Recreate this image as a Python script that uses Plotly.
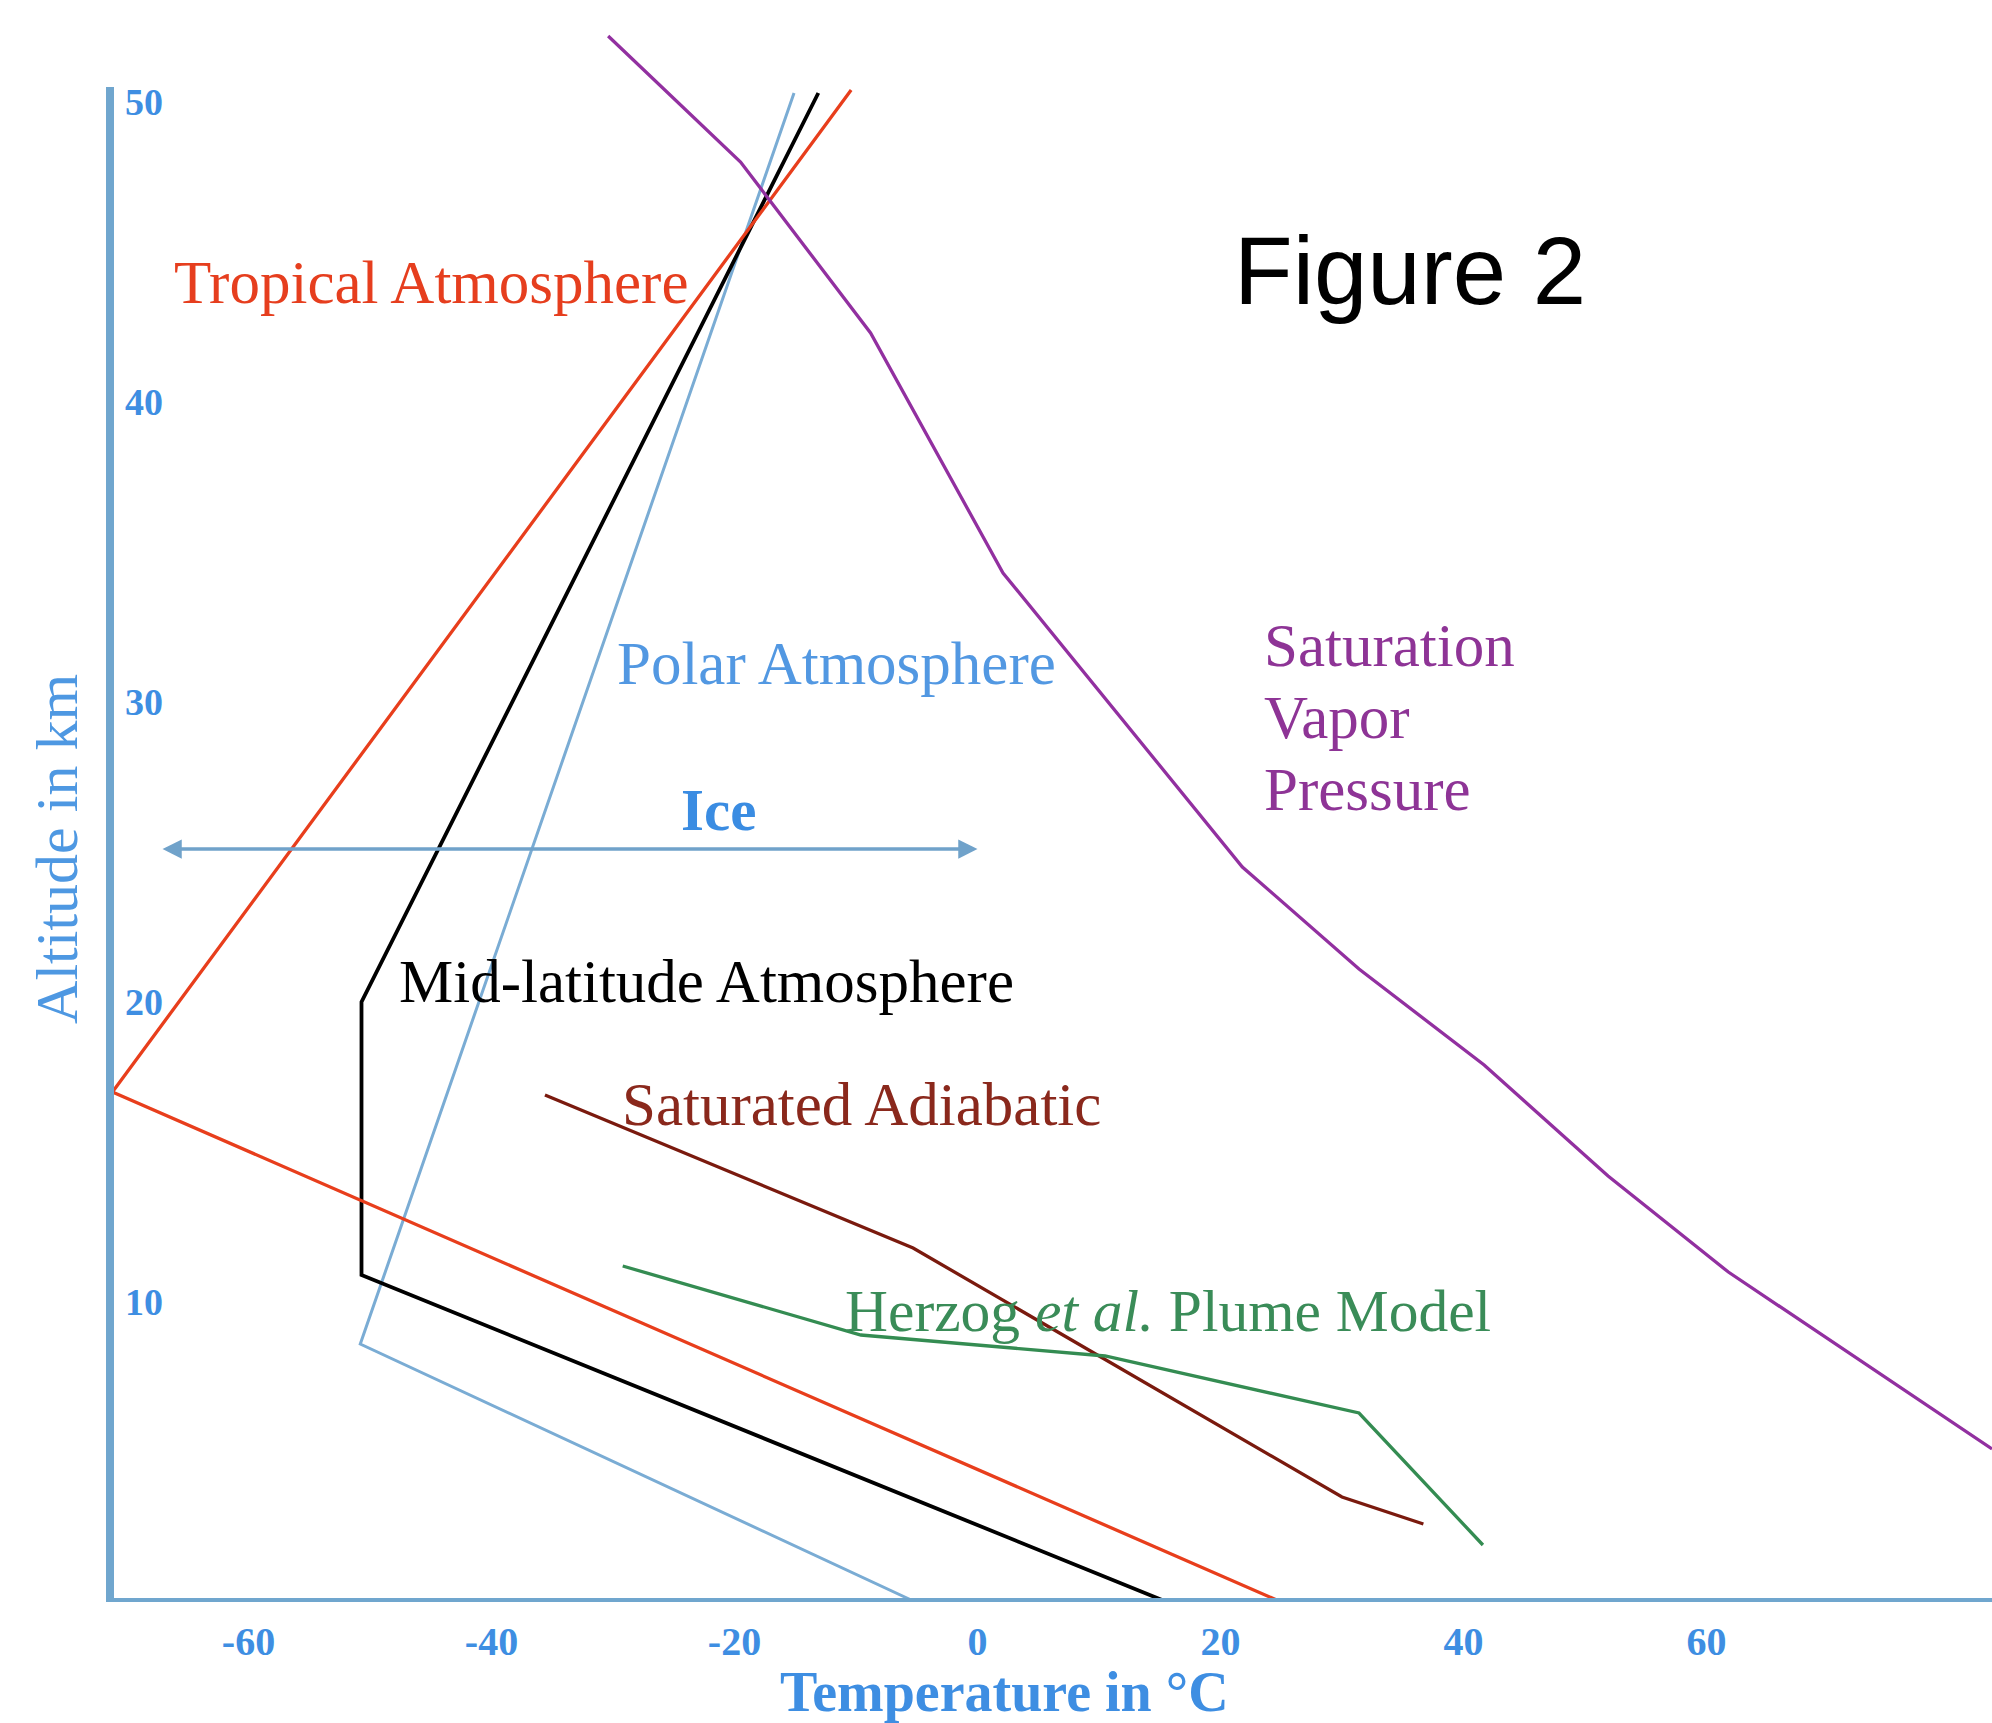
import plotly.graph_objects as go

# ---- data (temperature in °C, altitude in km) ----
tropical_T = [25.0, -71.2, -10.4]
tropical_h = [0.0, 17.0, 50.4]

midlat_T = [15.6, -50.7, -50.7, -13.1]
midlat_h = [0.0, 10.9, 20.0, 50.3]

polar_T = [-5.1, -50.8, -15.1]
polar_h = [0.0, 8.6, 50.3]

svp_T = [-30.4, -19.5, -8.8, 2.1, 21.8, 31.4, 41.7, 51.9, 61.8, 83.5]
svp_h = [52.2, 48.0, 42.3, 34.3, 24.5, 21.1, 17.9, 14.2, 11.0, 5.1]

satad_T = [-35.6, -5.3, 30.0, 36.7]
satad_h = [16.9, 11.8, 3.5, 2.6]

herzog_T = [-29.2, -9.6, 10.5, 31.4, 41.6]
herzog_h = [11.2, 8.9, 8.2, 6.3, 1.9]

ice_T = [-67.2, 0.0]
ice_h = 25.1

x_ticks = [-60, -40, -20, 0, 20, 40, 60]
x_ticktext = ["-60", "-40", "-20", "0", "20", "40", "60"]
y_ticks = [10, 20, 30, 40, 50]

X_RANGE = [-71.4, 83.5]
Y_RANGE = [0, 53.4]
Y_AXIS_TOP = 50.5

SERIF = "Liberation Serif, Times New Roman, serif"
SANS = "Liberation Sans, Arial, Helvetica, sans-serif"
AXIS_COL = "rgb(112,166,206)"
TICK_COL = "rgb(62,142,226)"

fig = go.Figure()

def add_line(x, y, color, width):
    fig.add_trace(go.Scatter(x=x, y=y, mode="lines",
                             line=dict(color=color, width=width),
                             hoverinfo="skip", showlegend=False))

add_line(polar_T, polar_h, "rgb(122,172,212)", 3)
add_line(midlat_T, midlat_h, "rgb(0,0,0)", 3.8)
add_line(tropical_T, tropical_h, "rgb(232,62,28)", 3.3)
add_line(svp_T, svp_h, "rgb(146,48,160)", 3.3)
add_line(satad_T, satad_h, "rgb(122,26,14)", 3.3)
add_line(herzog_T, herzog_h, "rgb(52,140,82)", 3.3)

# axis lines
fig.add_shape(type="line", xref="paper", yref="y", x0=0, x1=1, y0=0, y1=0,
              line=dict(color=AXIS_COL, width=8))
fig.add_shape(type="line", xref="paper", yref="y", x0=0, x1=0, y0=0, y1=Y_AXIS_TOP,
              line=dict(color=AXIS_COL, width=8))

# Ice double arrow
fig.add_annotation(x=ice_T[1], y=ice_h, ax=ice_T[0], ay=ice_h,
                   xref="x", yref="y", axref="x", ayref="y",
                   text="", showarrow=True, arrowside="end+start",
                   arrowhead=2, arrowsize=1.1, arrowwidth=3.5,
                   arrowcolor="rgb(112,162,202)")

def label(text, x, y, color, size=61, xanchor="left", weight="normal", family=SERIF):
    fig.add_annotation(x=x, y=y, xref="x", yref="y", text=text, showarrow=False,
                       xanchor=xanchor, yanchor="middle",
                       font=dict(family=family, size=size, color=color, weight=weight))

label("Tropical Atmosphere", -66.3, 44.0, "rgb(230,62,30)")
label("Polar Atmosphere", -29.8, 31.3, "rgb(82,152,226)")
label("Saturation", 23.4, 31.9, "rgb(142,52,150)")
label("Vapor", 23.4, 29.5, "rgb(142,52,150)")
label("Pressure", 23.4, 27.1, "rgb(142,52,150)")
label("Ice", -21.3, 26.4, "rgb(58,140,226)", size=59, xanchor="center", weight="bold")
label("Mid-latitude Atmosphere", -47.8, 20.7, "rgb(0,0,0)")
label("Saturated Adiabatic", -29.4, 16.6, "rgb(138,40,28)")
label("Herzog <i>et al.</i> Plume Model", -11.1, 9.7, "rgb(58,140,88)", size=59.5)
label("Figure 2", 35.6, 44.4, "rgb(0,0,0)", size=96, xanchor="center", family=SANS)

# axis titles
fig.add_annotation(x=-0.0282, y=25.1, xref="paper", yref="y", text="Altitude in km",
                   textangle=-90, showarrow=False, xanchor="center", yanchor="middle",
                   font=dict(family=SERIF, size=60, color="rgb(78,152,226)"))
fig.add_annotation(x=2.2, y=-0.0562, xref="x", yref="paper", text="Temperature in °C",
                   showarrow=False, xanchor="center", yanchor="middle",
                   font=dict(family=SERIF, size=56, color=TICK_COL, weight="bold"))

fig.update_layout(
    width=1992, height=1723,
    margin=dict(l=110, r=0, t=0, b=121),
    paper_bgcolor="white", plot_bgcolor="white",
    showlegend=False,
    xaxis=dict(range=X_RANGE, showgrid=False, zeroline=False, showline=False,
               tickvals=x_ticks, ticktext=x_ticktext, ticks="",
               ticklabelstandoff=12,
               tickfont=dict(family=SERIF, size=40, color=TICK_COL, weight="bold")),
    yaxis=dict(range=Y_RANGE, showgrid=False, zeroline=False, showline=False,
               tickvals=y_ticks, ticks="", ticklabelposition="inside",
               ticklabelstandoff=12,
               tickfont=dict(family=SERIF, size=38, color=TICK_COL, weight="bold")),
)

fig.write_html("out.html", config={"displayModeBar": False},
               post_script="document.body.style.margin='0';document.body.style.overflow='hidden';")
